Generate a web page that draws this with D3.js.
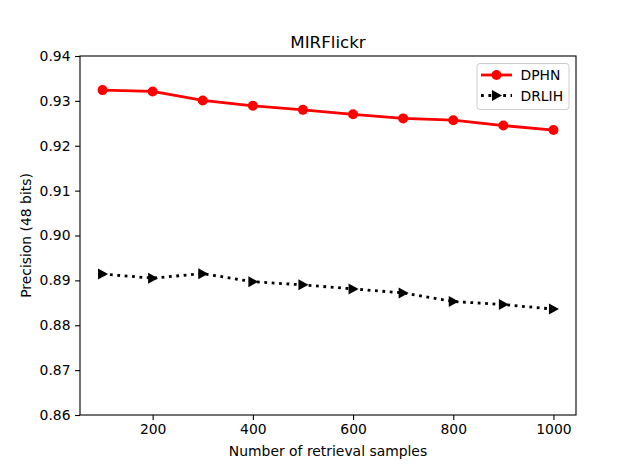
<!DOCTYPE html>
<html>
<head>
<meta charset="utf-8">
<script src="https://cdn.jsdelivr.net/npm/d3@7"></script>
<style>
  body { margin: 0; background: #fff; }
  svg { font-family: "DejaVu Sans", sans-serif; }
</style>
</head>
<body>
<script>
// chart data
const samples = [100, 200, 300, 400, 500, 600, 700, 800, 900, 1000];
const dphn = [0.9324, 0.9321, 0.9301, 0.9289, 0.9280, 0.9270, 0.9261, 0.9257, 0.9245, 0.9235];
const drlih = [0.8914, 0.8905, 0.8915, 0.8897, 0.8890, 0.8881, 0.8872, 0.8853, 0.8846, 0.8836];
const xTicks = [200, 400, 600, 800, 1000];
const yTicks = [0.86, 0.87, 0.88, 0.89, 0.90, 0.91, 0.92, 0.93, 0.94];

const width = 640, height = 467;
const margin = { top: 56, right: 64, bottom: 52, left: 80 };
const fontSize = 13.9;

const svg = d3.select('body').append('svg')
  .attr('width', width)
  .attr('height', height);

const x = d3.scaleLinear().domain([55, 1045]).range([margin.left, width - margin.right]);
const y = d3.scaleLinear().domain([0.86, 0.94]).range([height - margin.bottom, margin.top]);

const series = [
  { name: 'DPHN', values: dphn, color: '#ff0000', dash: null, marker: 'circle' },
  { name: 'DRLIH', values: drlih, color: '#000000', dash: '2.8,4.6', marker: 'tri' }
];

// axes
const xAxis = svg.append('g')
  .attr('transform', `translate(0,${height - margin.bottom})`)
  .call(d3.axisBottom(x).tickValues(xTicks).tickFormat(d3.format('d'))
    .tickSizeOuter(0).tickSize(4.9).tickPadding(4.6));
const yAxis = svg.append('g')
  .attr('transform', `translate(${margin.left},0)`)
  .call(d3.axisLeft(y).tickValues(yTicks).tickFormat(d3.format('.2f'))
    .tickSizeOuter(0).tickSize(4.9).tickPadding(4.6));

[xAxis, yAxis].forEach(g => {
  g.select('.domain').remove();
  g.selectAll('line').attr('stroke', '#000').attr('stroke-width', 1.1);
  g.selectAll('text').attr('font-size', fontSize).attr('fill', '#000')
    .attr('font-family', '"DejaVu Sans", sans-serif');
});

const line = d3.line().x((d, i) => x(samples[i])).y(d => y(d));

const plot = svg.append('g');
series.forEach(s => {
  plot.append('path')
    .datum(s.values)
    .attr('d', line)
    .attr('fill', 'none')
    .attr('stroke', s.color)
    .attr('stroke-width', 2.8)
    .attr('stroke-dasharray', s.dash);
  const pts = plot.selectAll(null).data(s.values).join('g')
    .attr('transform', (d, i) => `translate(${x(samples[i])},${y(d)})`);
  drawMarker(pts, s);
});

function drawMarker(sel, s) {
  if (s.marker === 'circle') {
    sel.append('circle').attr('r', 5).attr('fill', s.color);
  } else {
    sel.append('path').attr('d', 'M5.5,0L-4.5,-5.5L-4.5,5.5Z').attr('fill', s.color);
  }
}

// frame
svg.append('rect')
  .attr('x', margin.left).attr('y', margin.top)
  .attr('width', width - margin.left - margin.right)
  .attr('height', height - margin.top - margin.bottom)
  .attr('fill', 'none').attr('stroke', '#000').attr('stroke-width', 1.1);

// title and axis labels
svg.append('text')
  .attr('x', (margin.left + width - margin.right) / 2).attr('y', 48)
  .attr('text-anchor', 'middle').attr('font-size', 16.7)
  .text('MIRFlickr');
svg.append('text')
  .attr('x', (margin.left + width - margin.right) / 2).attr('y', 456)
  .attr('text-anchor', 'middle').attr('font-size', fontSize)
  .text('Number of retrieval samples');
svg.append('text')
  .attr('transform', `translate(31,${(margin.top + height - margin.bottom) / 2}) rotate(-90)`)
  .attr('text-anchor', 'middle').attr('font-size', fontSize)
  .text('Precision (48 bits)');

// legend
const lg = svg.append('g').attr('transform', 'translate(477,63.5)');
lg.append('rect')
  .attr('width', 92).attr('height', 46).attr('rx', 3)
  .attr('fill', '#fff').attr('fill-opacity', 0.8)
  .attr('stroke', '#ccc').attr('stroke-width', 1);
series.forEach((s, i) => {
  const row = lg.append('g').attr('transform', `translate(0,${11.5 + i * 20.5})`);
  row.append('line')
    .attr('x1', 4).attr('x2', 35)
    .attr('stroke', s.color).attr('stroke-width', 2.8)
    .attr('stroke-dasharray', s.dash);
  drawMarker(row.append('g').attr('transform', 'translate(19.5,0)'), s);
  row.append('text')
    .attr('x', 43.5).attr('y', 5)
    .attr('font-size', fontSize)
    .text(s.name);
});
</script>
</body>
</html>
